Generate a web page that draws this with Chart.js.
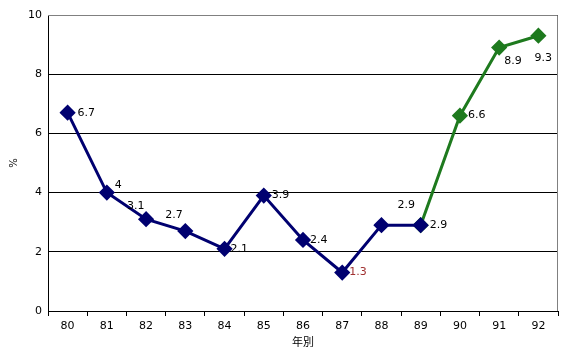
<!DOCTYPE html>
<html>
<head>
<meta charset="utf-8">
<script src="https://cdn.jsdelivr.net/npm/chart.js@4/dist/chart.umd.min.js"></script>
<style>
  html, body { margin: 0; padding: 0; background: #fff; }
  #wrap { width: 567px; height: 351px; position: relative; }
</style>
</head>
<body>
<div id="wrap"><canvas id="grafico"></canvas></div>
<script>
// datos
const anios = ['80', '81', '82', '83', '84', '85', '86', '87', '88', '89', '90', '91', '92'];
const tasaAzul = [6.7, 4, 3.1, 2.7, 2.1, 3.9, 2.4, 1.3, 2.9, 2.9, null, null, null];
const tasaVerde = [null, null, null, null, null, null, null, null, null, 2.9, 6.6, 8.9, 9.3];
const ticksY = [0, 2, 4, 6, 8, 10];

// donde va cada etiqueta respecto al punto (dx, dy)
const posAzul = [[16, 0], [14, -7], [-13, -13], [-14, -16], [12, 0], [14, 0], [13, 0], [13, 0], [22, -20], [0, 0]];
const posVerde = [[0, 0], [0, 0], [0, 0], [0, 0], [0, 0], [0, 0], [0, 0], [0, 0], [0, 0], [15, 0], [14, 0], [11, 14], [2, 22]];

const etiquetas = {
    id: 'etiquetas',
    afterDatasetsDraw(chart) {
        const ctx = chart.ctx;
        ctx.save();
        ctx.font = '11px "DejaVu Sans", sans-serif';
        ctx.textBaseline = 'middle';
        ctx.textAlign = 'left';
        chart.data.datasets.forEach((ds, i) => {
            const meta = chart.getDatasetMeta(i);
            const pos = i === 0 ? posAzul : posVerde;
            meta.data.forEach((p, j) => {
                const v = ds.data[j];
                if (v === null) return;
                // el 2.9 de 89 se escribe una sola vez
                if (i === 0 && j === 9) return;
                ctx.fillStyle = (i === 0 && j === 7) ? '#a03030' : '#000';
                ctx.fillText(String(v), p.x + pos[j][0] - 6, p.y + pos[j][1]);
            });
        });
        ctx.restore();
    }
};

const marco = {
    id: 'marco',
    beforeDatasetsDraw(chart) {
        const a = chart.chartArea;
        const ctx = chart.ctx;
        ctx.save();
        ctx.strokeStyle = '#808080';
        ctx.lineWidth = 1;
        ctx.beginPath();
        ctx.moveTo(a.left, a.top + 0.5);
        ctx.lineTo(a.right - 0.5, a.top + 0.5);
        ctx.lineTo(a.right - 0.5, a.bottom);
        ctx.stroke();
        ctx.restore();
    }
};

const ctx = document.getElementById('grafico').getContext('2d');
new Chart(ctx, {
    type: 'line',
    data: {
        labels: anios,
        datasets: [{
            data: tasaAzul,
            borderColor: '#000070',
            backgroundColor: '#000070',
            borderWidth: 3,
            pointStyle: 'rectRot',
            pointRadius: 6,
            pointHoverRadius: 6,
            tension: 0,
            spanGaps: false
        }, {
            data: tasaVerde,
            borderColor: '#1e7a1e',
            backgroundColor: '#1e7a1e',
            borderWidth: 3,
            pointStyle: 'rectRot',
            pointRadius: 6,
            pointHoverRadius: 6,
            tension: 0,
            spanGaps: false
        }]
    },
    options: {
        responsive: true,
        maintainAspectRatio: false,
        animation: false,
        layout: { padding: { left: 0, top: 15, right: 5, bottom: 0 } },
        plugins: {
            legend: { display: false },
            tooltip: { enabled: false }
        },
        scales: {
            x: {
                offset: true,
                grid: {
                    display: true,
                    offset: true,
                    drawOnChartArea: false,
                    tickLength: 5,
                    color: '#000'
                },
                border: { color: '#000', width: 1 },
                ticks: {
                    color: '#000',
                    font: { family: '"DejaVu Sans", sans-serif', size: 11 },
                    padding: 4,
                    maxRotation: 0
                },
                title: {
                    display: true,
                    text: '年別',
                    color: '#000',
                    font: { family: '"Noto Sans CJK TC", sans-serif', size: 11 },
                    padding: { top: 0, bottom: 3 }
                },
                afterFit(scale) { scale.height = 40; }
            },
            y: {
                min: 0,
                max: 10,
                afterBuildTicks(scale) { scale.ticks = ticksY.map(v => ({ value: v })); },
                grid: {
                    color: '#000',
                    tickLength: 0,
                    lineWidth: 1
                },
                border: { color: '#000', width: 1 },
                ticks: {
                    color: '#000',
                    font: { family: '"DejaVu Sans", sans-serif', size: 11 },
                    padding: 6
                },
                title: {
                    display: true,
                    text: '%',
                    color: '#000',
                    font: { family: '"DejaVu Sans", sans-serif', size: 10 },
                    padding: { top: 8, bottom: 0 }
                },
                afterFit(scale) { scale.width = 48; }
            }
        }
    },
    plugins: [marco, etiquetas]
});
</script>
</body>
</html>
